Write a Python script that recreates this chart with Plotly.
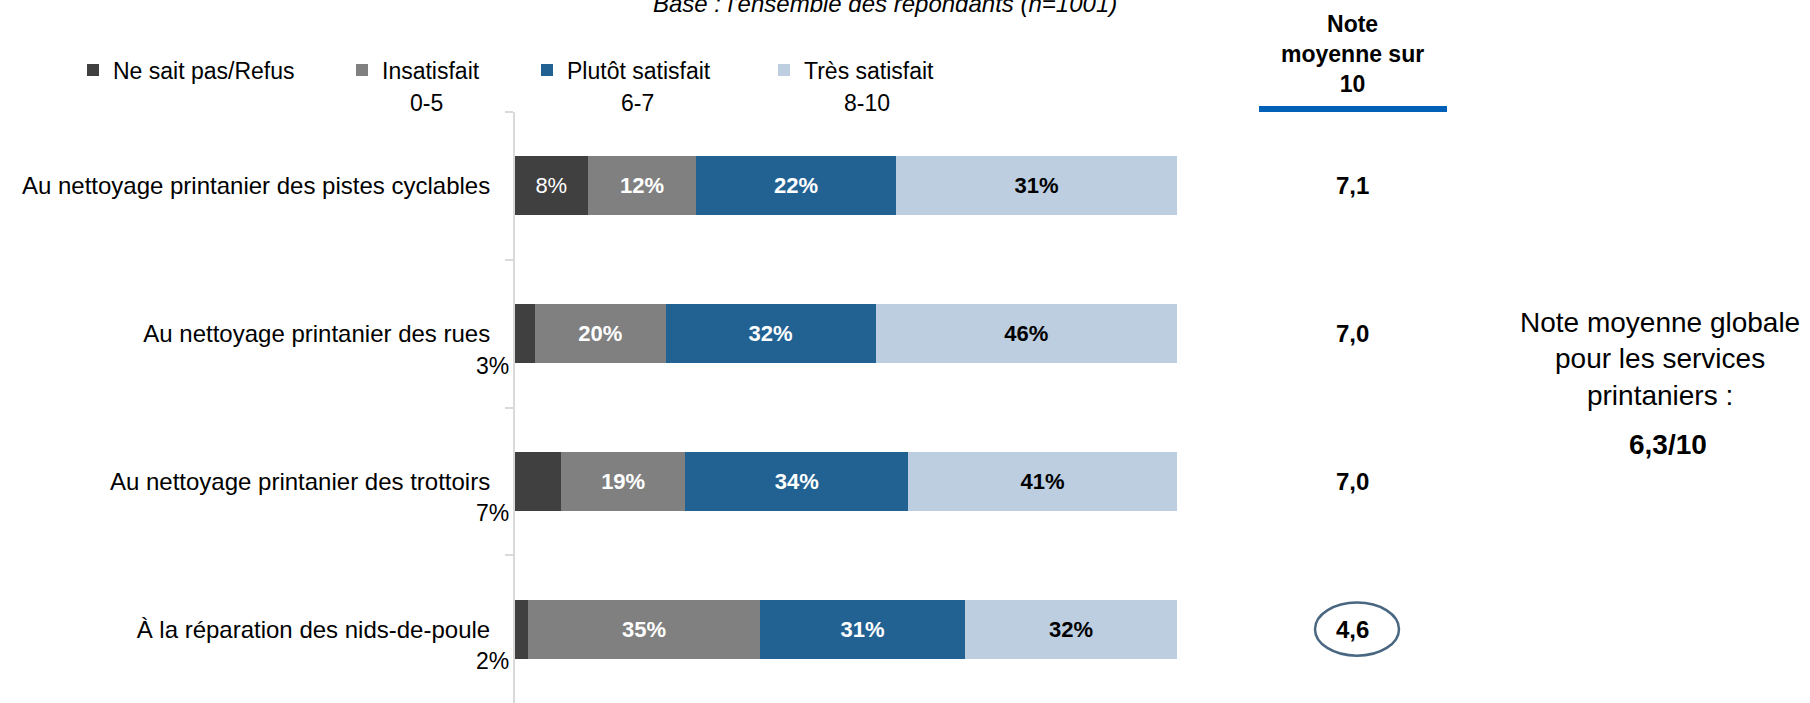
import plotly.graph_objects as go

# ---------------- data ----------------
categories = [
    "Au nettoyage printanier des pistes cyclables",
    "Au nettoyage printanier des rues",
    "Au nettoyage printanier des trottoirs",
    "À la réparation des nids-de-poule",
]
series_names = ["Ne sait pas/Refus", "Insatisfait", "Plutôt satisfait", "Très satisfait"]
series_ranges = ["", "0-5", "6-7", "8-10"]
ne_sait_pas = [8, 3, 7, 2]
insatisfait = [12, 20, 19, 35]
plutot_satisfait = [22, 32, 34, 31]
tres_satisfait = [31, 46, 41, 32]
note_moyenne = ["7,1", "7,0", "7,0", "4,6"]
note_header = "Note<br>moyenne sur<br>10"
note_globale_label = "Note moyenne globale<br>pour les services<br>printaniers :"
note_globale = "6,3/10"
title_text = "Base : l'ensemble des répondants (n=1001)"

# ---------------- style ----------------
FONT = "Liberation Sans, Arial, sans-serif"
colors = ["#404040", "#808080", "#216293", "#BCCEE0"]
label_colors = ["white", "white", "white", "black"]
W, H = 1810, 703
ML, MR, MT, MB = 515, 633, 112, 0
PW, PH = W - ML - MR, H - MT - MB


def px_x(px):
    return (px - ML) / PW


def px_y(py):
    return (H - MB - py) / PH


series = [ne_sait_pas, insatisfait, plutot_satisfait, tres_satisfait]
totals = [sum(v[i] for v in series) for i in range(len(categories))]

fig = go.Figure()
legend_ids = ["legend", "legend2", "legend3", "legend4"]
for k, (name, vals) in enumerate(zip(series_names, series)):
    if k == 0:
        texts = [f"{v}%" if v / t >= 0.1 else "" for v, t in zip(vals, totals)]
        tf = dict(family=FONT, size=22, color=label_colors[k])
    else:
        texts = [f"{v}%" for v in vals]
        tf = dict(family=FONT, size=22, color=label_colors[k], weight="bold")
    fig.add_trace(go.Bar(
        y=categories, x=vals, name=name, orientation="h",
        marker=dict(color=colors[k], line=dict(width=0)),
        text=texts, textposition="inside", insidetextanchor="middle",
        textangle=0, constraintext="none", textfont=tf,
        legend=legend_ids[k], hoverinfo="skip",
    ))

# small "Ne sait pas" values shown outside, under the axis
for v, t, c in zip(ne_sait_pas, totals, categories):
    if v / t < 0.1:
        fig.add_annotation(x=0, y=c, xref="x", yref="y", text=f"{v}%",
                           showarrow=False, xanchor="right", yanchor="middle",
                           xshift=-4, yshift=-32,
                           font=dict(family=FONT, size=23, color="black"))

# legend ranges (second line)
range_x = [None, 426, 637, 867]
for r, xx in zip(series_ranges, range_x):
    if r:
        fig.add_annotation(x=px_x(xx), y=px_y(103), xref="paper", yref="paper",
                           text=r, showarrow=False, xanchor="center", yanchor="middle",
                           font=dict(family=FONT, size=23, color="black"))

# header for mean scores
fig.add_annotation(x=px_x(1352), y=px_y(54), xref="paper", yref="paper",
                   text=note_header, showarrow=False, xanchor="center", yanchor="middle",
                   font=dict(family=FONT, size=23, color="black", weight="bold"))
fig.add_shape(type="line", xref="paper", yref="paper",
              x0=px_x(1259), x1=px_x(1447), y0=px_y(109), y1=px_y(109),
              line=dict(color="#0060B8", width=6))

for c, n in zip(categories, note_moyenne):
    fig.add_annotation(x=px_x(1352), y=c, xref="paper", yref="y", text=n,
                       showarrow=False, xanchor="center", yanchor="middle",
                       font=dict(family=FONT, size=24, color="black", weight="bold"))

# hand-drawn circle around the lowest score
idx_low = 3
fig.add_shape(type="circle", xref="paper", yref="y",
              x0=px_x(1315), x1=px_x(1399), y0=idx_low - 0.18, y1=idx_low + 0.18,
              line=dict(color="#4A6782", width=2.5))

# global mean
fig.add_annotation(x=px_x(1660), y=px_y(359), xref="paper", yref="paper",
                   text=note_globale_label, showarrow=False, xanchor="center", yanchor="middle",
                   font=dict(family=FONT, size=28, color="black"))
fig.add_annotation(x=px_x(1668), y=px_y(444), xref="paper", yref="paper",
                   text=note_globale, showarrow=False, xanchor="center", yanchor="middle",
                   font=dict(family=FONT, size=28, color="black", weight="bold"))

# cut-off title at top
fig.add_annotation(x=px_x(885), y=px_y(4), xref="paper", yref="paper",
                   text=title_text, showarrow=False, xanchor="center", yanchor="middle",
                   font=dict(family=FONT, size=24, color="black", style="italic"))

legend_left = [73, 342, 527, 764]
legend_common = dict(orientation="h", yanchor="middle", y=px_y(70), xanchor="left",
                     bgcolor="rgba(0,0,0,0)", borderwidth=0,
                     font=dict(family=FONT, size=23, color="black"))
layout_legends = {}
for lid, lx in zip(legend_ids, legend_left):
    layout_legends[lid] = dict(x=px_x(lx), **legend_common)

fig.update_layout(
    width=W, height=H,
    margin=dict(l=ML, r=MR, t=MT, b=MB, pad=0),
    paper_bgcolor="white", plot_bgcolor="white",
    barmode="stack", barnorm="percent", bargap=0.6,
    showlegend=True,
    font=dict(family=FONT, size=23, color="black"),
    xaxis=dict(visible=False, range=[0, 100], fixedrange=True),
    yaxis=dict(type="category", categoryorder="array", categoryarray=categories,
               autorange="reversed", tickson="boundaries", ticks="outside",
               ticklen=8, tickwidth=2, tickcolor="#D9D9D9",
               showline=True, linecolor="#D9D9D9", linewidth=2,
               showgrid=False, zeroline=False, ticklabelstandoff=18,
               tickfont=dict(family=FONT, size=24, color="black"), fixedrange=True),
    **layout_legends,
)

fig.write_html("out.html", config={"displayModeBar": False, "staticPlot": True},
               post_script="document.body.style.margin='0';document.body.style.overflow='hidden';")
